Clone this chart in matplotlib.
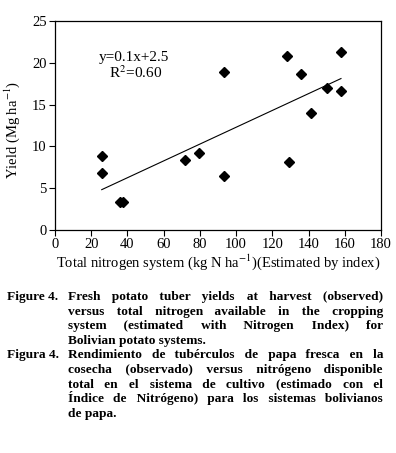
import numpy as np
import matplotlib
matplotlib.use("Agg")
import matplotlib.pyplot as plt

# ─── datos ────────────────────────────────────────────────────────────────────
n_total = [25.8, 25.8, 36.0, 37.8, 71.8, 79.7, 93.2, 93.2,
           127.9, 129.3, 135.6, 141.5, 150.2, 157.9, 157.9]
yield_obs = [8.8, 6.8, 3.4, 3.3, 8.4, 9.2, 18.9, 6.4,
             20.8, 8.1, 18.7, 14.0, 17.0, 21.3, 16.6]
fit_slope = 0.1006
fit_intercept = 2.23

x_ticks = list(range(0, 181, 20))
y_ticks = list(range(0, 26, 5))

caption_en_label = "Figure 4."
caption_en = ["Fresh potato tuber yields at harvest (observed)",
              "versus total nitrogen available in the cropping",
              "system (estimated with Nitrogen Index) for",
              "Bolivian potato systems."]
caption_es_label = "Figura 4."
caption_es = ["Rendimiento de tubérculos de papa fresca en la",
              "cosecha (observado) versus nitrógeno disponible",
              "total en el sistema de cultivo (estimado con el",
              "Índice de Nitrógeno) para los sistemas bolivianos",
              "de papa."]

W, H = 396, 453
plt.rcParams["font.family"] = ["Liberation Serif", "DejaVu Serif"]
plt.rcParams["mathtext.fontset"] = "stix"

fig = plt.figure(figsize=(W / 100, H / 100), dpi=100)
ax = fig.add_axes([55 / W, 1 - 230 / H, (381 - 55) / W, (230 - 21) / H])

ax.plot(n_total, yield_obs, ls="none", marker="D", ms=5.6, color="black")
xf = np.array([min(n_total), max(n_total)])
ax.plot(xf, fit_slope * xf + fit_intercept, color="black", lw=0.8)

ax.text(43.8, 20.6, "y=0.1x+2.5", ha="center", va="center", fontsize=11)
ax.text(44.5, 18.8, "R$^2$=0.60", ha="center", va="center", fontsize=11)

ax.set_xlim(0, 180)
ax.set_ylim(0, 25)
ax.set_xticks(x_ticks)
ax.set_yticks(y_ticks)
ax.tick_params(direction="out", length=4, width=0.8, labelsize=10.5,
               top=False, right=False, pad=2)
for s in ax.spines.values():
    s.set_linewidth(0.9)
ax.set_xlabel("Total nitrogen system (kg N ha$^{-1}$)(Estimated by index)",
              fontsize=10.5, labelpad=1)
ax.set_ylabel("Yield (Mg ha$^{-1}$)", fontsize=10.5)
ax.yaxis.set_label_coords(-0.101, 0.478)

# ─── pie de figura justificado ───────────────────────────────────────────────
# una sola cadena por renglón; los huecos se rellenan con espacios finos
renderer = fig.canvas.get_renderer()
FS = 9.6
col_x0, col_x1 = 68, 383
HAIR = "\u200a"


def px(x, y):
    return x / W, 1 - y / H


def text_width(s):
    t = fig.text(0, 0, s, fontsize=FS, fontweight="bold")
    w = t.get_window_extent(renderer).width
    t.remove()
    return w


hair_w = text_width("a" + HAIR * 10 + "a") - text_width("aa")
hair_w /= 10


def justify(line):
    words = line.split()
    if len(words) < 2:
        return line
    extra = (col_x1 - col_x0) - text_width(line)
    per_gap = extra / (len(words) - 1)
    out, acc, used = words[0], 0.0, 0
    for w in words[1:]:
        acc += per_gap
        n = int(round(acc / hair_w)) - used
        used += n
        out += " " + HAIR * max(n, 0) + w
    return out


y0, step = 300, 14.6
row = 0
for label, lines in [(caption_en_label, caption_en), (caption_es_label, caption_es)]:
    fig.text(*px(7, y0 + row * step), label, fontsize=FS, fontweight="bold",
             ha="left", va="baseline")
    for i, line in enumerate(lines):
        s = justify(line) if i < len(lines) - 1 else line
        fig.text(*px(col_x0, y0 + row * step), s, fontsize=FS,
                 fontweight="bold", ha="left", va="baseline")
        row += 1

fig.savefig("out.png", dpi=100)
